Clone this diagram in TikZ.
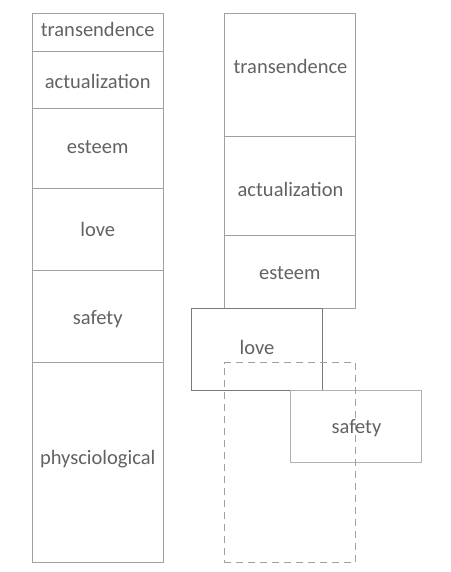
\documentclass[tikz,border=0pt]{standalone}
\usepackage{fontspec}
\setmainfont{Carlito}
\begin{document}
\begin{tikzpicture}[x=1pt,y=-1pt,
  box/.style={draw=boxgray, line width=0.9pt, minimum width=131.5pt, inner sep=0pt, outer sep=0pt},
  lbl/.style={anchor=base, text=txtgray, font=\fontsize{20.5}{24}\selectfont, inner sep=0pt}]
\definecolor{boxgray}{HTML}{A0A0A0}
\definecolor{txtgray}{HTML}{626262}
\definecolor{darkbox}{HTML}{7A7A7A}
\definecolor{lightbox}{HTML}{B0B0B0}
\useasboundingbox (0,0) rectangle (450,572);
% left column
\node[box, minimum height=38.4pt] (L1) at (97.7,32.5) {};
\node[box, minimum height=56.6pt] (L2) at (97.7,80) {};
\node[box, minimum height=80pt] (L3) at (97.7,148.3) {};
\node[box, minimum height=81.7pt] (L4) at (97.7,229.15) {};
\node[box, minimum height=92.7pt] (L5) at (97.7,316.35) {};
\node[box, minimum height=199.6pt] (L6) at (97.7,462.5) {};
\node[lbl] (t1) at (97.7,36.5) {transendence};
\node[lbl] (t2) at (97.7,88.8) {actualization};
\node[lbl] (t3) at (97.7,153.2) {esteem};
\node[lbl] (t4) at (97.7,236.5) {love};
\node[lbl] (t5) at (97.7,324.2) {safety};
\node[lbl] (t6) at (97.7,464.2) {physciological};
% right column
\node[box, minimum height=123.4pt] (R1) at (289.8,75) {};
\node[box, minimum height=98.3pt] (R2) at (289.8,185.85) {};
\node[box, minimum height=73.3pt] (R3) at (289.8,271.65) {};
\node[box, draw=darkbox, minimum height=82pt] (R4) at (257,349.3) {};
\node[box, draw=lightbox, minimum height=72.4pt] (R5) at (355.8,426.5) {};
\node[lbl] (s1) at (290.5,73.2) {transendence};
\node[lbl] (s2) at (290.5,196.5) {actualization};
\node[lbl] (s3) at (289.8,279.8) {esteem};
\node[lbl] (s4) at (257,354.8) {love};
\node[lbl] (s5) at (356.5,433.2) {safety};
\node[box, dash pattern=on 7pt off 5pt, minimum height=199.6pt] (D) at (289.8,462.5) {};
\end{tikzpicture}
\end{document}
